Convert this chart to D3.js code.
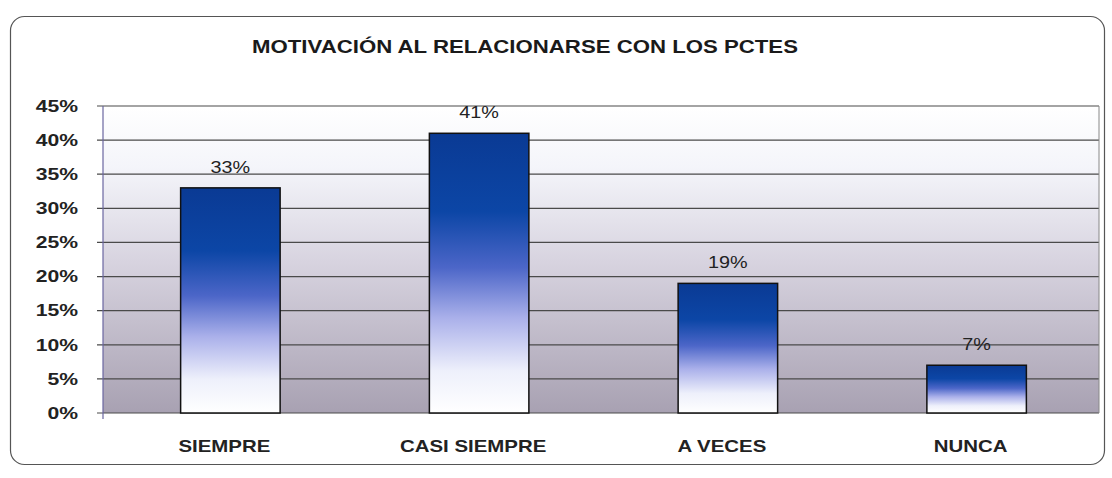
<!DOCTYPE html>
<html><head><meta charset="utf-8">
<script src="https://cdn.jsdelivr.net/npm/d3@7"></script>
<style>body{margin:0;background:#fff}svg{display:block}</style>
</head><body>
<script>
const title = "MOTIVACIÓN AL RELACIONARSE CON LOS PCTES";
const categories = ["SIEMPRE", "CASI SIEMPRE", "A VECES", "NUNCA"];
const values = [0.33, 0.41, 0.19, 0.07];
const valueLabels = ["33%", "41%", "19%", "7%"];
const yTicks = [0, 0.05, 0.10, 0.15, 0.20, 0.25, 0.30, 0.35, 0.40, 0.45];

const W = 1112, H = 478;
const m = {left: 103, right: 13, top: 106, bottom: 65};
const FONT = "Liberation Sans, Arial, sans-serif";
const svg = d3.select("body").append("svg").attr("width", W).attr("height", H);
const defs = svg.append("defs");

function stretch(sel, k) {
  sel.each(function() {
    const len = this.getComputedTextLength();
    d3.select(this).attr("textLength", len * k).attr("lengthAdjust", "spacingAndGlyphs");
  });
}

const bg = defs.append("linearGradient").attr("id","bg").attr("x1",0).attr("y1",0).attr("x2",0).attr("y2",1);
bg.append("stop").attr("offset","0%").attr("stop-color","#ffffff");
bg.append("stop").attr("offset","20%").attr("stop-color","#f4f5fa");
bg.append("stop").attr("offset","50%").attr("stop-color","#d8d4e0");
bg.append("stop").attr("offset","100%").attr("stop-color","#a8a1b2");

const bar = defs.append("linearGradient").attr("id","bar").attr("x1",0).attr("y1",0).attr("x2",0).attr("y2",1);
bar.append("stop").attr("offset","0%").attr("stop-color","#0a3a94");
bar.append("stop").attr("offset","28%").attr("stop-color","#0c46a6");
bar.append("stop").attr("offset","48%").attr("stop-color","#4c66c8");
bar.append("stop").attr("offset","66%").attr("stop-color","#aab0ea");
bar.append("stop").attr("offset","85%").attr("stop-color","#eef0fb");
bar.append("stop").attr("offset","100%").attr("stop-color","#ffffff");

// outer frame
svg.append("rect").attr("x",10.5).attr("y",16.5).attr("width",1094).attr("height",448)
  .attr("rx",14).attr("fill","#fff").attr("stroke","#555").attr("stroke-width",1.2);

const x = d3.scaleBand().domain(categories).range([m.left + 3, W - m.right + 2]).paddingInner(0.6).paddingOuter(0.3);
const y = d3.scaleLinear().domain([0, 0.45]).range([H - m.bottom, m.top]);

svg.append("rect").attr("x", m.left).attr("y", m.top).attr("width", W - m.right - m.left)
  .attr("height", (H - m.bottom) - m.top).attr("fill","url(#bg)");

// gridlines
svg.append("g").selectAll("line").data(yTicks).join("line")
  .attr("x1", m.left - 6).attr("x2", W - m.right)
  .attr("y1", d => y(d)).attr("y2", d => y(d))
  .attr("stroke","#4a4a4a").attr("stroke-width",1.2);

// plot borders
svg.append("line").attr("x1",m.left).attr("x2",m.left).attr("y1",m.top).attr("y2",H-m.bottom+6).attr("stroke","#6a66a0").attr("stroke-width",1.2);
svg.append("line").attr("x1",W-m.right).attr("x2",W-m.right).attr("y1",m.top).attr("y2",H-m.bottom).attr("stroke","#888").attr("stroke-width",1);

// y axis labels
const yAxis = d3.axisLeft(y).tickValues(yTicks).tickFormat(d3.format(".0%")).tickSize(0).tickPadding(25);
const ga = svg.append("g").attr("transform",`translate(${m.left},0)`).call(yAxis);
ga.select(".domain").remove();
ga.selectAll("text").attr("font-family",FONT).attr("font-size",16.5).attr("font-weight","bold").attr("fill","#222");
stretch(ga.selectAll("text"), 1.28);

// bars
svg.append("g").selectAll("rect").data(values).join("rect")
  .attr("x",(d,i)=>x(categories[i])).attr("width",x.bandwidth())
  .attr("y",d=>y(d)).attr("height",d=>y(0)-y(d))
  .attr("fill","url(#bar)").attr("stroke","#111").attr("stroke-width",1.5);

// value labels
const vl = svg.append("g").selectAll("text").data(values).join("text")
  .attr("x",(d,i)=>x(categories[i])+x.bandwidth()/2).attr("y",d=>y(d)-15)
  .attr("text-anchor","middle").attr("font-family",FONT)
  .attr("font-size",16.5).attr("fill","#222").text((d,i)=>valueLabels[i]);
stretch(vl, 1.2);

// x axis labels
const xAxis = d3.axisBottom(x).tickSize(0).tickPadding(27);
const gx = svg.append("g").attr("transform",`translate(-6,${H-m.bottom})`).call(xAxis);
gx.select(".domain").remove();
gx.selectAll("text").attr("font-family",FONT).attr("font-size",17).attr("font-weight","bold").attr("fill","#222");
stretch(gx.selectAll("text"), 1.2);

// title
const t = svg.append("text").attr("x",525).attr("y",53).attr("text-anchor","middle")
  .attr("font-family",FONT).attr("font-size",18.5).attr("font-weight","bold")
  .attr("fill","#1a1a1a").text(title);
stretch(t, 1.2);
</script>
</body></html>
